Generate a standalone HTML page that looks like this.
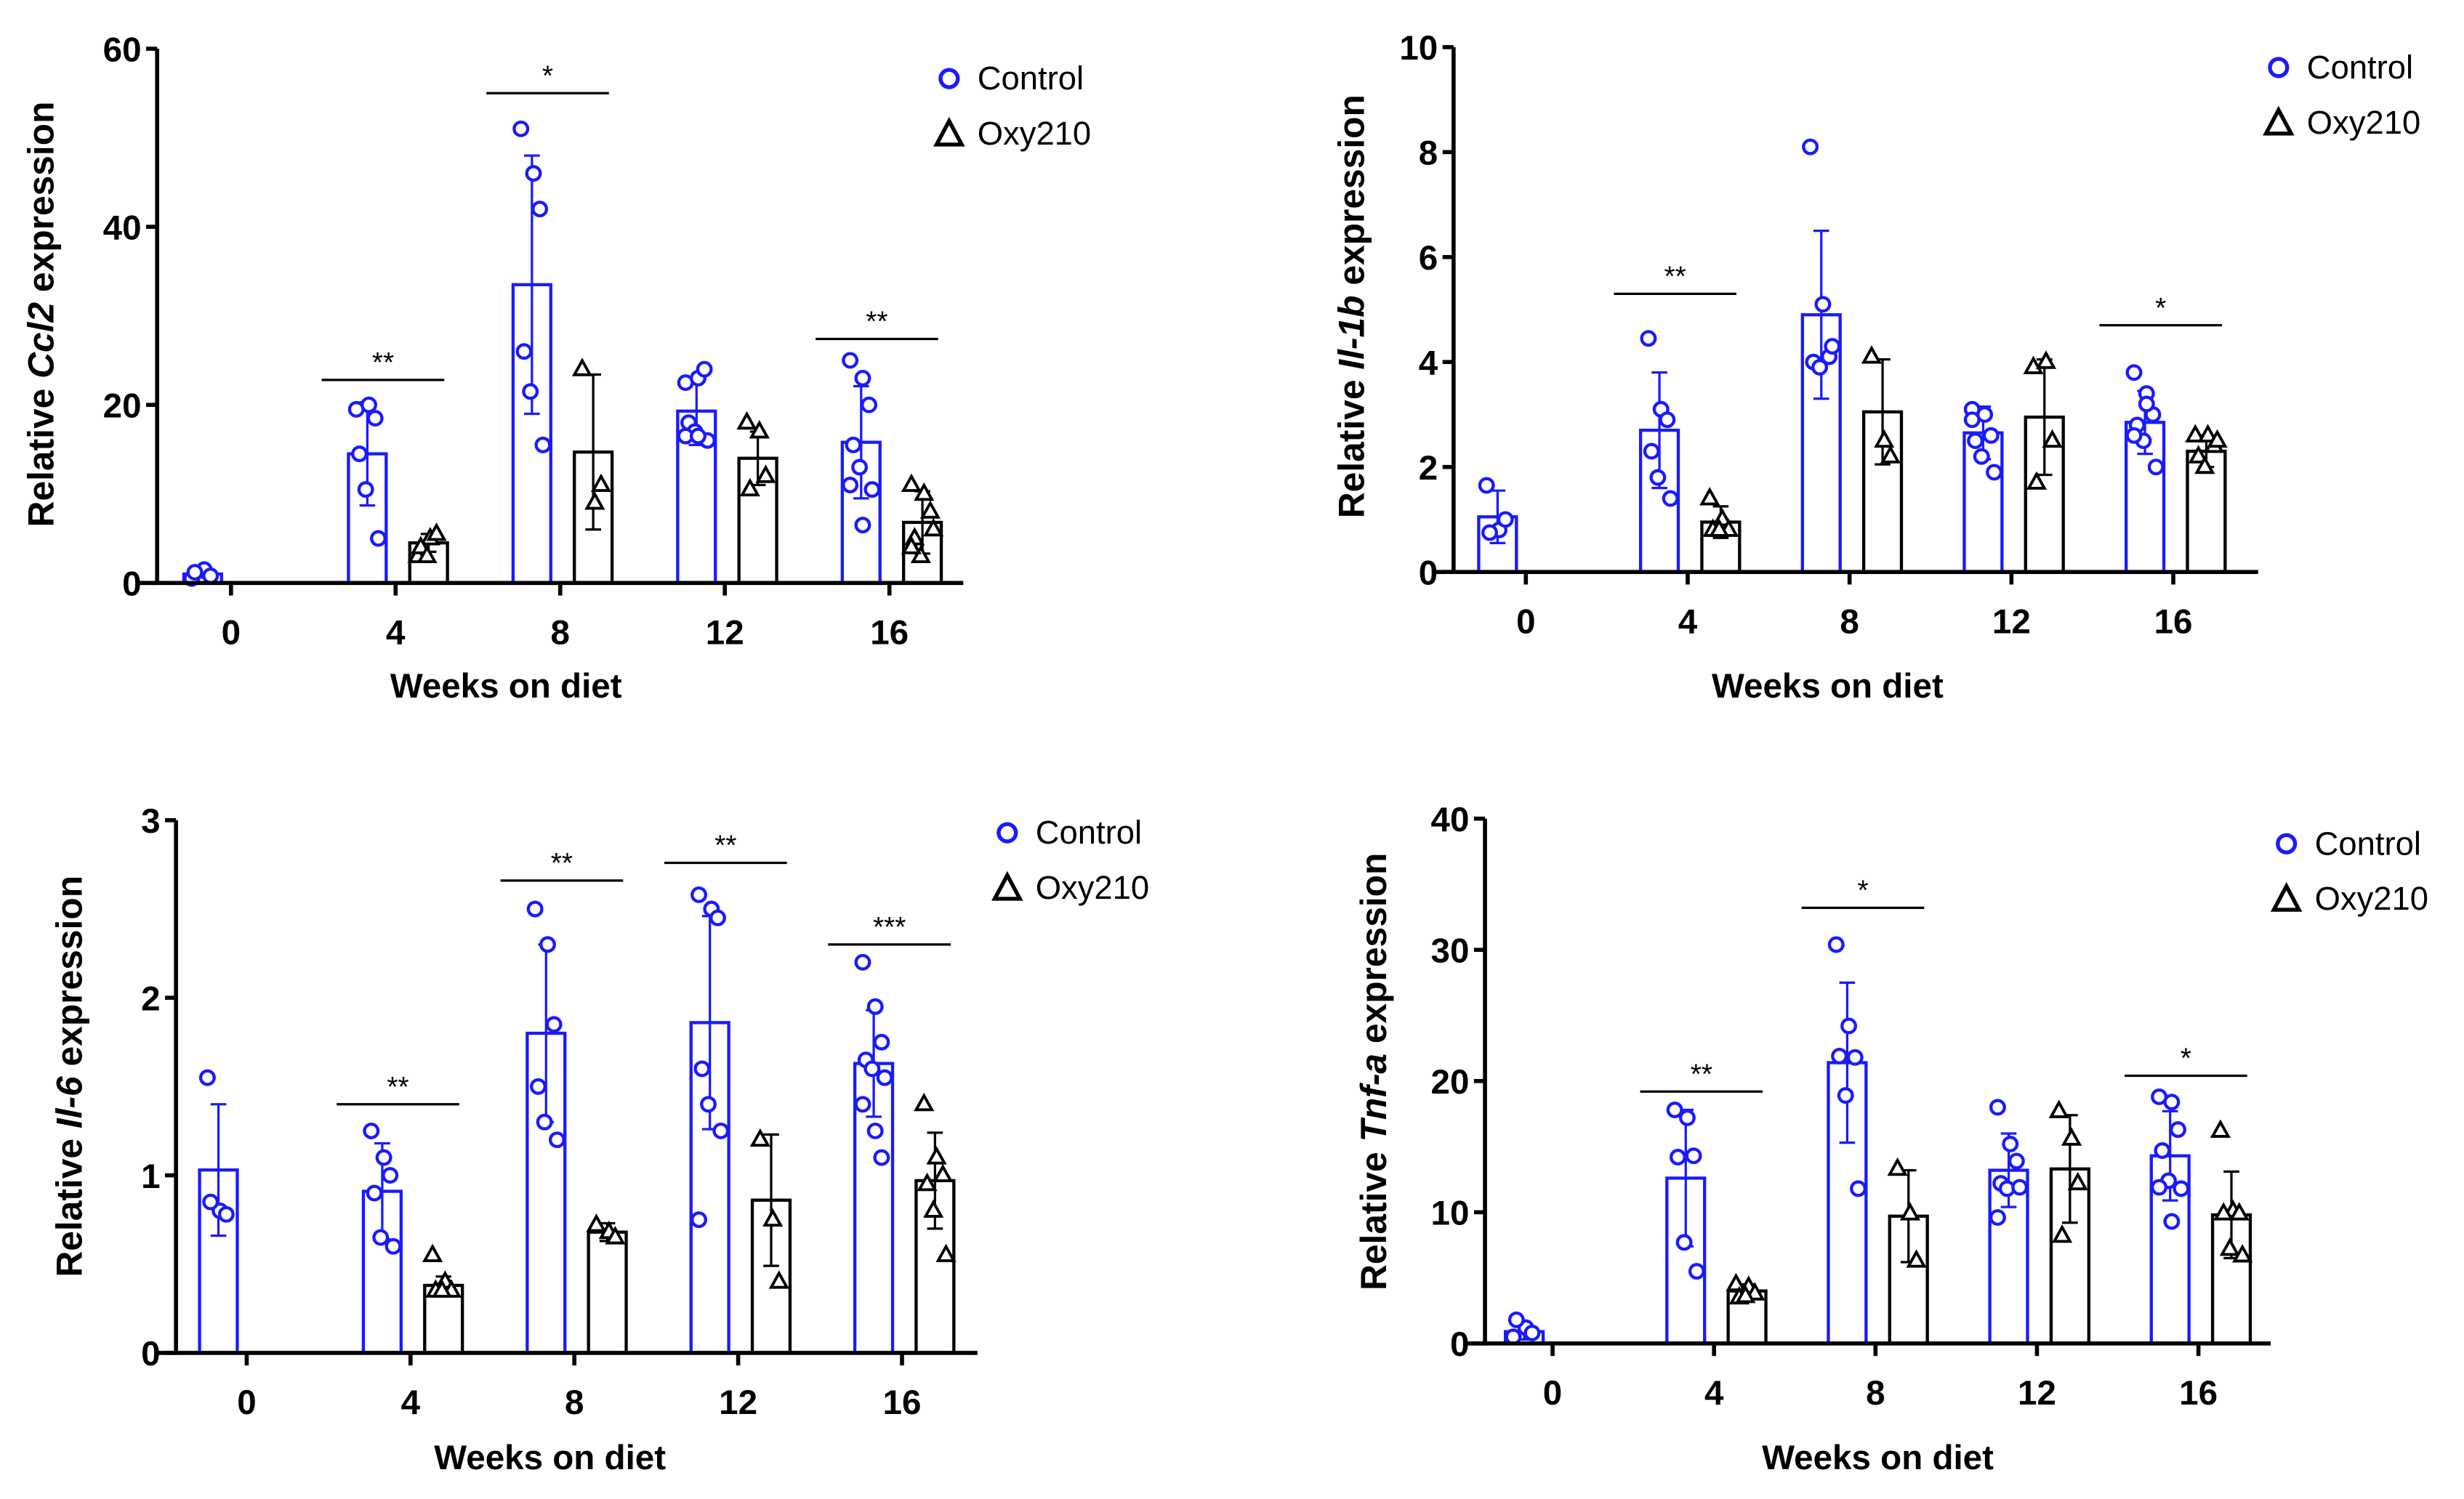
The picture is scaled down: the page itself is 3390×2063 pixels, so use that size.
<!DOCTYPE html>
<html><head><meta charset="utf-8"><style>
html,body{margin:0;padding:0;background:#fff;}
svg{display:block;}
text{font-family:"Liberation Sans",Arial,sans-serif;}
</style></head><body>
<svg id="fig" width="3390" height="2063" viewBox="0 0 1568 954" preserveAspectRatio="none" xmlns="http://www.w3.org/2000/svg"></svg>
<script>
const weeks = ["0","4","8","12","16"];
// Panel A: Ccl2
const ccl2CtrlMean = [1.0, 14.5, 33.5, 19.3, 15.8];
const ccl2CtrlSd = [0.4, 5.8, 14.5, 3.8, 6.3];
const ccl2OxyMean = [null, 4.5, 14.7, 14.0, 6.8];
const ccl2OxySd = [null, 1.0, 8.7, 3.0, 3.5];
const ccl2CtrlPts = [[0.5,1.5,0.8,1.2],[19.5,20,18.5,14.5,10.5,5],[51,46,42,26,21.5,15.5],[22.5,23,24,18,17,16,16.5,16.5],[25,23,20,15.5,13,10.5,11,6.5]];
const ccl2OxyPts = [[],[3,5,5.5,4,3],[24,9,11],[18,17,12,10.5],[11,10,8,5,3,6,4]];
const ccl2Sig = [[1,22.8,"**"],[2,55,"*"],[4,27.4,"**"]];
const ccl2Ticks = [0,20,40,60];
// Panel B: Il-1b
const il1bCtrlMean = [1.05, 2.7, 4.9, 2.65, 2.85];
const il1bCtrlSd = [0.5, 1.1, 1.6, 0.5, 0.6];
const il1bOxyMean = [null, 0.95, 3.05, 2.95, 2.3];
const il1bOxySd = [null, 0.3, 1.0, 1.1, 0.3];
const il1bCtrlPts = [[1.65,0.8,1.0,0.75],[4.45,3.1,2.9,2.3,1.8,1.4],[8.1,5.1,4.1,4.0,3.9,4.3],[3.1,3.0,2.6,2.5,2.2,1.9,2.9],[3.8,3.4,3.0,2.8,2.5,2.0,2.6,3.2]];
const il1bOxyPts = [[],[1.4,1.0,0.8,0.8,0.8],[4.1,2.5,2.2],[3.9,4.0,2.5,1.7],[2.6,2.6,2.4,2.2,2.0,2.5]];
const il1bSig = [[1,5.3,"**"],[4,4.7,"*"]];
const il1bTicks = [0,2,4,6,8,10];
// Panel C: Il-6
const il6CtrlMean = [1.03, 0.91, 1.8, 1.86, 1.63];
const il6CtrlSd = [0.37, 0.27, 0.5, 0.6, 0.3];
const il6OxyMean = [null, 0.38, 0.68, 0.86, 0.97];
const il6OxySd = [null, 0.05, 0.05, 0.37, 0.27];
const il6CtrlPts = [[1.55,0.8,0.78,0.85],[1.25,1.1,1.0,0.9,0.65,0.6],[2.5,2.3,1.85,1.5,1.3,1.2],[2.58,2.5,2.45,1.6,1.4,1.25,0.75],[2.2,1.95,1.75,1.65,1.6,1.55,1.4,1.25,1.1]];
const il6OxyPts = [[],[0.55,0.4,0.35,0.35,0.35],[0.72,0.68,0.65],[1.2,0.75,0.4],[1.4,1.1,1.0,0.95,0.8,0.55]];
const il6Sig = [[1,1.4,"**"],[2,2.66,"**"],[3,2.76,"**"],[4,2.3,"***"]];
const il6Ticks = [0,1,2,3];
// Panel D: Tnf-a
const tnfCtrlMean = [0.9, 12.6, 21.4, 13.2, 14.3];
const tnfCtrlSd = [0.6, 5.2, 6.1, 2.8, 3.4];
const tnfOxyMean = [null, 4.0, 9.7, 13.3, 9.8];
const tnfOxySd = [null, 0.5, 3.5, 4.1, 3.3];
const tnfCtrlPts = [[0.5,1.2,0.8,1.8],[17.8,17.2,14.3,14.2,7.7,5.5],[30.4,24.2,21.8,21.9,18.9,11.8],[18,15.2,13.9,12.2,11.8,11.9,9.6],[18.8,18.4,16.3,14.7,12.4,11.8,11.9,9.3]];
const tnfOxyPts = [[],[4.5,4.3,3.8,3.5,3.6],[13.3,9.9,6.3],[17.7,15.6,12.2,8.2],[16.2,10.1,9.9,9.9,7.2,6.7]];
const tnfSig = [[1,19.2,"**"],[2,33.2,"*"],[4,20.4,"*"]];
const tnfTicks = [0,10,20,30,40];

const NS = "http://www.w3.org/2000/svg";
const svg = document.getElementById("fig");
function mk(tag, attrs, parent){ const e=document.createElementNS(NS,tag); for(const k in attrs) e.setAttribute(k,attrs[k]); (parent||svg).appendChild(e); return e; }
const BLUE="#1a1aff";

function panel(p){
  const g = mk("g",{});
  
  
  const ymax = p.ticks[p.ticks.length-1];
  const Y = v => p.y0 - (v/ymax)*(p.y0-p.yTop);
  const X = i => p.gx0 + i*p.gstep;
  for(let i=0;i<weeks.length;i++){
    [[p.cm,p.csd,p.cpts,-18,BLUE,"control"],[p.om,p.osd,p.opts,21,"#000","oxy210"]].forEach(s=>{
      const m=s[0][i]; if(m===null) return;
      const cx=X(i)+s[3], col=s[4];
      const b=mk("rect",{x:cx-12,y:Y(m),width:24,height:p.y0-Y(m),fill:"none",stroke:col,"stroke-width":2},g);
      
      
      const sd=s[1][i];
      const eb=mk("path",{d:`M${cx},${Y(m-sd)}V${Y(m+sd)}M${cx-5},${Y(m+sd)}H${cx+5}M${cx-5},${Y(m-sd)}H${cx+5}`,stroke:col,"stroke-width":1.5,fill:"none"},g);
      
      
      s[2][i].forEach((v,j)=>{
        const dx=((j%3)-1)*6+((j%2)?1:-1);
        const px=cx+dx, py=Y(v);
        let pt;
        if(s[5]==="control") pt=mk("circle",{cx:px,cy:py,r:4.3,fill:"#fff",stroke:col,"stroke-width":2},g);
        else pt=mk("path",{d:`M${px},${py-5.5}L${px+5},${py+3.5}L${px-5},${py+3.5}Z`,fill:"#fff",stroke:col,"stroke-width":1.8},g);
        
        
      });
    });
  }
  const ya=mk("path",{d:`M${p.ax},${p.yTop}V${p.y0}`,stroke:"#000","stroke-width":2.6,fill:"none"},g);
  
  
  const xa=mk("path",{d:`M${p.ax-12},${p.y0}H${p.axEnd}`,stroke:"#000","stroke-width":2.6,fill:"none"},g);
  
  
  p.ticks.forEach(t=>{
    mk("path",{d:`M${p.ax-7},${Y(t)}H${p.ax}`,stroke:"#000","stroke-width":2.6},g);
    const tl=mk("text",{x:p.ax-10,y:Y(t)+8,"text-anchor":"end","font-size":22,"font-weight":"bold"},g);
    tl.textContent=t;
    
    
  });
  weeks.forEach((w,i)=>{
    mk("path",{d:`M${X(i)},${p.y0}V${p.y0+8}`,stroke:"#000","stroke-width":2.6},g);
    const tl=mk("text",{x:X(i),y:p.y0+39,"text-anchor":"middle","font-size":22,"font-weight":"bold"},g);
    tl.textContent=w;
    
    
  });
  const xt=mk("text",{x:p.xtX,y:p.xtY,"text-anchor":"middle","font-size":22,"font-weight":"bold"},g);
  xt.textContent="Weeks on diet";
  
  
  const yt=mk("text",{x:0,y:0,"text-anchor":"middle","font-size":23,"font-weight":"bold",transform:`translate(${p.ytX},${p.ytY}) rotate(-90)`},g);
  
  
  const t1=mk("tspan",{},yt); t1.textContent="Relative ";
  const t2=mk("tspan",{"font-style":"italic"},yt); t2.textContent=p.gene;
  const t3=mk("tspan",{},yt); t3.textContent=" expression";
  p.sig.forEach(s=>{
    const x=X(s[0]), y=Y(s[1]);
    const l=mk("path",{d:`M${x-47},${y}H${x+31}`,stroke:"#000","stroke-width":1.5},g);
    
    
    const st=mk("text",{x:x-8,y:y-5,"text-anchor":"middle","font-size":18},g);
    st.textContent=s[2];
    
    
  });
  const lg=mk("g",{},g);
  
  
  mk("circle",{cx:p.lx,cy:p.ly,r:5.5,fill:"none",stroke:BLUE,"stroke-width":2.5},lg);
  const c1=mk("text",{x:p.lx+18,y:p.ly+7,"font-size":21},lg); c1.textContent="Control";
  
  
  const ty=p.ly+35;
  mk("path",{d:`M${p.lx},${ty-8}L${p.lx+8},${ty+7}L${p.lx-8},${ty+7}Z`,fill:"none",stroke:"#000","stroke-width":2.5},lg);
  const c2=mk("text",{x:p.lx+18,y:ty+7,"font-size":21},lg); c2.textContent="Oxy210";
  
  
}

panel({name:"ccl2-chart",gene:"Ccl2",ticks:ccl2Ticks,cm:ccl2CtrlMean,csd:ccl2CtrlSd,om:ccl2OxyMean,osd:ccl2OxySd,cpts:ccl2CtrlPts,opts:ccl2OxyPts,sig:ccl2Sig,
  ax:100,axEnd:613,yTop:31,y0:371,gx0:147,gstep:104.75,xtX:322,xtY:444,ytX:34,ytY:200,lx:604,ly:50});
panel({name:"il1b-chart",gene:"Il-1b",ticks:il1bTicks,cm:il1bCtrlMean,csd:il1bCtrlSd,om:il1bOxyMean,osd:il1bOxySd,cpts:il1bCtrlPts,opts:il1bOxyPts,sig:il1bSig,
  ax:925,axEnd:1437,yTop:30,y0:364,gx0:971,gstep:103,xtX:1163,xtY:444,ytX:868,ytY:195,lx:1450,ly:43});
panel({name:"il6-chart",gene:"Il-6",ticks:il6Ticks,cm:il6CtrlMean,csd:il6CtrlSd,om:il6OxyMean,osd:il6OxySd,cpts:il6CtrlPts,opts:il6OxyPts,sig:il6Sig,
  ax:112,axEnd:622,yTop:522,y0:861,gx0:157,gstep:104.25,xtX:350,xtY:935,ytX:52,ytY:685,lx:641,ly:530});
panel({name:"tnfa-chart",gene:"Tnf-a",ticks:tnfTicks,cm:tnfCtrlMean,csd:tnfCtrlSd,om:tnfOxyMean,osd:tnfOxySd,cpts:tnfCtrlPts,opts:tnfOxyPts,sig:tnfSig,
  ax:945,axEnd:1445,yTop:521,y0:855,gx0:988,gstep:102.75,xtX:1195,xtY:935,ytX:882,ytY:682,lx:1455,ly:537});
</script>
</body></html>
